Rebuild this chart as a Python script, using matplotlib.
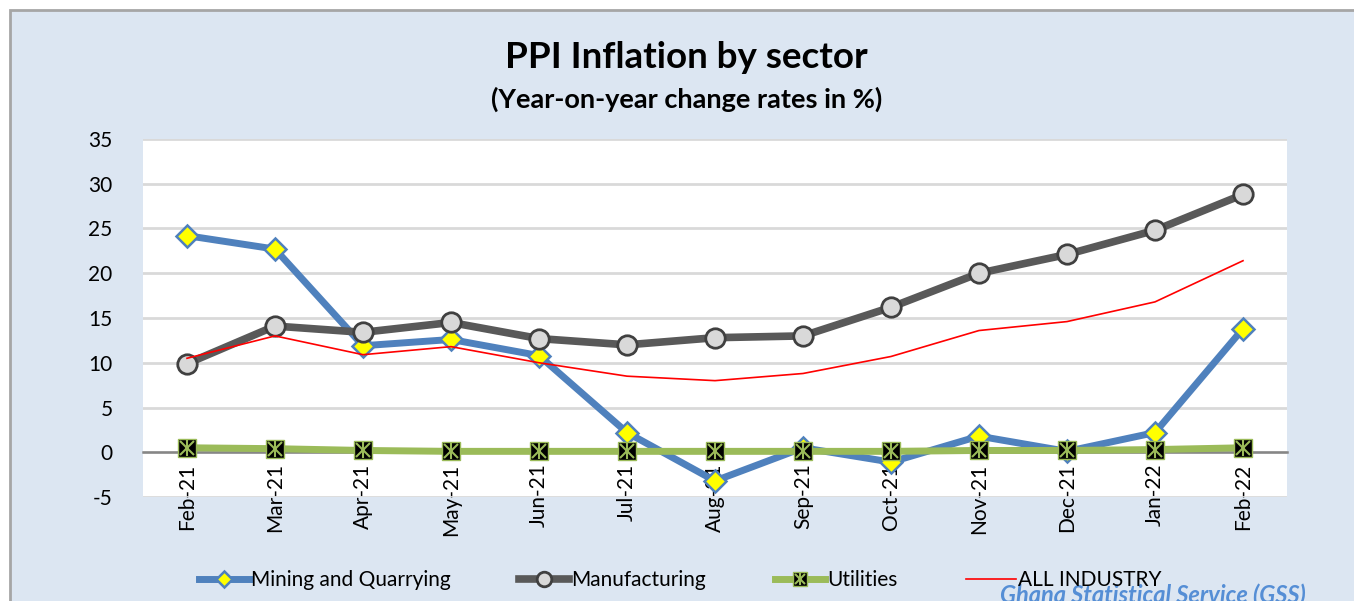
import matplotlib
matplotlib.use("Agg")
import matplotlib.pyplot as plt
from matplotlib.patches import Rectangle
from matplotlib.legend_handler import HandlerTuple

plt.rcParams['font.family'] = ['Lato', 'DejaVu Sans']

months = ["Feb-21", "Mar-21", "Apr-21", "May-21", "Jun-21", "Jul-21", "Aug-21",
          "Sep-21", "Oct-21", "Nov-21", "Dec-21", "Jan-22", "Feb-22"]
mining = [24.2, 22.7, 11.9, 12.6, 10.8, 2.2, -3.2, 0.5, -1.1, 1.8, 0.1, 2.2, 13.8]
manufacturing = [9.9, 14.1, 13.4, 14.5, 12.7, 12.0, 12.8, 13.0, 16.2, 20.0, 22.1, 24.8, 28.8]
utilities = [0.5, 0.4, 0.2, 0.1, 0.1, 0.1, 0.1, 0.1, 0.1, 0.2, 0.2, 0.3, 0.5]
all_industry = [10.5, 13.0, 10.9, 11.8, 10.0, 8.5, 8.0, 8.8, 10.7, 13.6, 14.6, 16.8, 21.4]
yticks = [-5, 0, 5, 10, 15, 20, 25, 30, 35]

W, H = 1354, 601
fig = plt.figure(figsize=(W / 100, H / 100), dpi=100, facecolor='white')

# chart area background with border
fig.patches.append(Rectangle((10 / W, -0.2), 1.2, 1.2 - 10 / H,
                             transform=fig.transFigure, facecolor='#DCE6F2',
                             edgecolor='#A6A6A6', linewidth=2, zorder=-10))

ax = fig.add_axes([143 / W, 1 - 497 / H, (1287 - 143) / W, (497 - 139) / H])
ax.set_facecolor('white')
x = list(range(len(months)))

ax.set_ylim(-5, 35)
ax.set_xlim(-0.5, len(months) - 0.5)
ax.set_yticks(yticks)
ax.set_yticklabels([str(v) for v in yticks], fontsize=15)
ax.yaxis.grid(True, color='#D9D9D9', linewidth=2)
ax.set_axisbelow(True)
for s in ['top', 'right', 'left']:
    ax.spines[s].set_visible(False)
ax.spines['bottom'].set_position(('data', 0))
ax.spines['bottom'].set_color('#868686')
ax.spines['bottom'].set_linewidth(1.8)
ax.spines['bottom'].set_zorder(1.5)
ax.tick_params(axis='y', length=0, pad=22)
ax.set_xticks(x)
ax.set_xticklabels(months, rotation=90, fontsize=15)
ax.tick_params(axis='x', length=0, pad=8)

l1, = ax.plot(x, mining, color='#4F81BD', linewidth=5, marker='D', markersize=11,
              markerfacecolor='#FFFF00', markeredgecolor='#4F81BD', markeredgewidth=1.8,
              zorder=3, label='Mining and Quarrying')
l2, = ax.plot(x, manufacturing, color='#595959', linewidth=5.5, marker='o', markersize=14,
              markerfacecolor='#D9D9D9', markeredgecolor='#404040', markeredgewidth=2,
              zorder=4, label='Manufacturing')
l3, = ax.plot(x, utilities, color='#9BBB59', linewidth=5, marker='s', markersize=13,
              markerfacecolor='black', markeredgecolor='#9BBB59', markeredgewidth=1,
              zorder=5)
l3x, = ax.plot(x, utilities, linestyle='none', marker='x', markersize=10,
               markeredgecolor='#9BBB59', markeredgewidth=1.5, zorder=5.1)
l3v, = ax.plot(x, utilities, linestyle='none', marker='|', markersize=11,
               markeredgecolor='#9BBB59', markeredgewidth=1.5, zorder=5.2)
l4, = ax.plot(x, all_industry, color='#FF0000', linewidth=1.2, zorder=6, label='ALL INDUSTRY')

fig.text(686.5 / W, 1 - 57 / H, 'PPI Inflation by sector',
         ha='center', va='center', fontsize=26.5, fontweight='bold')
fig.text(686.5 / W, 1 - 99 / H, '(Year-on-year change rates in %)',
         ha='center', va='center', fontsize=19.5, fontweight='bold')

handles = [l1, l2, (l3, l3x, l3v), l4]
labels = ['Mining and Quarrying', 'Manufacturing', 'Utilities', 'ALL INDUSTRY']
leg = fig.legend(handles, labels, loc='center', bbox_to_anchor=(680 / W, 1 - 580 / H),
                 ncol=4, frameon=False, fontsize=15, handlelength=2.4,
                 columnspacing=3.3, handletextpad=0.1, markerscale=0.75,
                 handler_map={tuple: HandlerTuple(ndivide=1, pad=0)})

fig.text(1153 / W, 1 - 595 / H, 'Ghana Statistical Service (GSS)', ha='center', va='center',
         fontsize=17, fontweight='bold', style='italic', color='#558ED5')

fig.savefig('out.png', dpi=100, facecolor=fig.get_facecolor())
